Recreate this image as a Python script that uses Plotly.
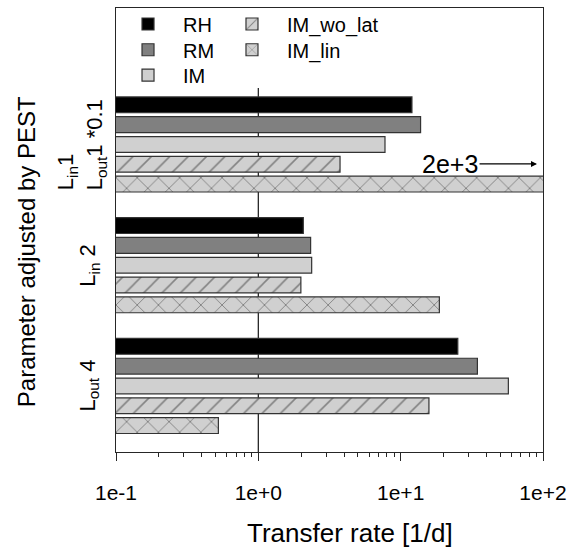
import numpy as np
import plotly.graph_objects as go

# ---- data ----
categories = ["Lin1 / Lout1 *0.1", "Lin2", "Lout4"]
category_labels = ["L<sub>in</sub>1<br>L<sub>out</sub>1 *0.1", "L<sub>in</sub> 2", "L<sub>out</sub> 4"]
series_names = ["RH", "RM", "IM", "IM_wo_lat", "IM_lin"]
rh = [12.0, 2.07, 25.2]
rm = [13.8, 2.33, 34.6]
im = [7.76, 2.37, 57.1]
im_wo_lat = [3.75, 1.99, 15.8]
im_lin = [2000.0, 18.7, 0.524]
x_tick_vals = [0.1, 1, 10, 100]
x_tick_text = ["1e-1", "1e+0", "1e+1", "1e+2"]
grid_vals = [1, 10]

FONT = "Arial, Liberation Sans, sans-serif"
LINE = "#262626"

styles = {
    "RH": dict(color="#000000", pattern=None),
    "RM": dict(color="#808080", pattern=None),
    "IM": dict(color="#d0d0d0", pattern=None),
    "IM_wo_lat": dict(color="#d0d0d0", pattern=dict(shape="/", fgcolor="#333333", bgcolor="#d0d0d0", size=13, solidity=0.12)),
    "IM_lin": dict(color="#d0d0d0", pattern=dict(shape="x", fgcolor="#333333", bgcolor="#d0d0d0", size=15, solidity=0.12)),
}
values = {"RH": rh, "RM": rm, "IM": im, "IM_wo_lat": im_wo_lat, "IM_lin": im_lin}
# legend layout: (legend id, x paper, y paper centre) -> two columns, column-major
legend_pos = {
    "RH": ("legend", -0.007, 0.964),
    "RM": ("legend2", -0.007, 0.906),
    "IM": ("legend3", -0.007, 0.849),
    "IM_wo_lat": ("legend4", 0.2365, 0.964),
    "IM_lin": ("legend5", 0.2365, 0.906),
}

fig = go.Figure()
for name in series_names:
    st = styles[name]
    marker = dict(color=st["color"], line=dict(color="#333333", width=1.2))
    if st["pattern"] is not None:
        marker["pattern"] = st["pattern"]
    fig.add_trace(go.Bar(
        y=categories, x=values[name], orientation="h", name=name,
        marker=marker, legend=legend_pos[name][0], showlegend=True,
    ))

legend_layout = {}
for name in series_names:
    lid, lx, ly = legend_pos[name]
    legend_layout[lid] = dict(x=lx, y=ly, xanchor="left", yanchor="middle", bgcolor="rgba(0,0,0,0)",
                              font=dict(family=FONT, size=20), itemwidth=60, visible=True)

# gridlines (log axis -> shapes use log10 units)
for gv in grid_vals:
    fig.add_shape(type="line", xref="x", yref="paper", x0=np.log10(gv), x1=np.log10(gv),
                  y0=0, y1=0.82, line=dict(color=LINE, width=1.3), layer="below")

# category labels
label_x = [-0.080, -0.062, -0.064]
for cat, lab, lx in zip(categories, category_labels, label_x):
    fig.add_annotation(x=lx, xref="paper", y=cat, yref="y", text=lab, showarrow=False,
                       textangle=-90, align="left", xanchor="center", yanchor="middle",
                       font=dict(family=FONT, size=22, color="#000"))

# axis titles
fig.add_annotation(x=-0.211, xref="paper", y=0.452, yref="paper", text="Parameter adjusted by PEST",
                   showarrow=False, textangle=-90, xanchor="center", yanchor="middle",
                   font=dict(family=FONT, size=24, color="#000"))
fig.add_annotation(x=0.548, xref="paper", y=-0.182, yref="paper", text="Transfer rate [1/d]",
                   showarrow=False, xanchor="center", yanchor="middle",
                   font=dict(family=FONT, size=26, color="#000"))

# off-scale value marker
v = im_lin[0]
exp = int(np.floor(np.log10(v)))
mant = v / 10 ** exp
off_label = f"{mant:g}e{'+' if exp >= 0 else '-'}{abs(exp)}"
fig.add_annotation(x=0.986, xref="paper", y=categories[0], yref="y", yshift=-19.5,
                   text=off_label, showarrow=True, ax=-87, ay=0, arrowhead=2, arrowsize=1,
                   arrowwidth=1.2, arrowcolor="#000",
                   font=dict(family=FONT, size=25, color="#000"))

fig.update_layout(
    width=571, height=551,
    margin=dict(l=116, r=28, t=8, b=99, autoexpand=False),
    paper_bgcolor="white", plot_bgcolor="white",
    showlegend=True,
    barmode="group", bargap=0.18, bargroupgap=0.2,
    font=dict(family=FONT, color="#000"),
    xaxis=dict(type="log", range=[-1, 2], tickvals=x_tick_vals, ticktext=x_tick_text,
               ticks="outside", ticklen=8, tickwidth=1.2, tickcolor=LINE, ticklabelstandoff=14,
               minor=dict(ticks="outside", ticklen=4, tickwidth=1.2, tickcolor=LINE, dtick="D1", showgrid=False),
               showline=True, linecolor=LINE, linewidth=1.4, mirror=True, showgrid=False, zeroline=False,
               tickfont=dict(family=FONT, size=21, color="#000")),
    yaxis=dict(type="category", categoryorder="array", categoryarray=categories,
               range=[2.547, -1.130], showticklabels=False, ticks="",
               showline=True, linecolor=LINE, linewidth=1.4, mirror=True, showgrid=False, zeroline=False),
    **legend_layout,
)

fig.write_html("out.html", config={"displayModeBar": False},
               post_script="document.body.style.margin='0';")
